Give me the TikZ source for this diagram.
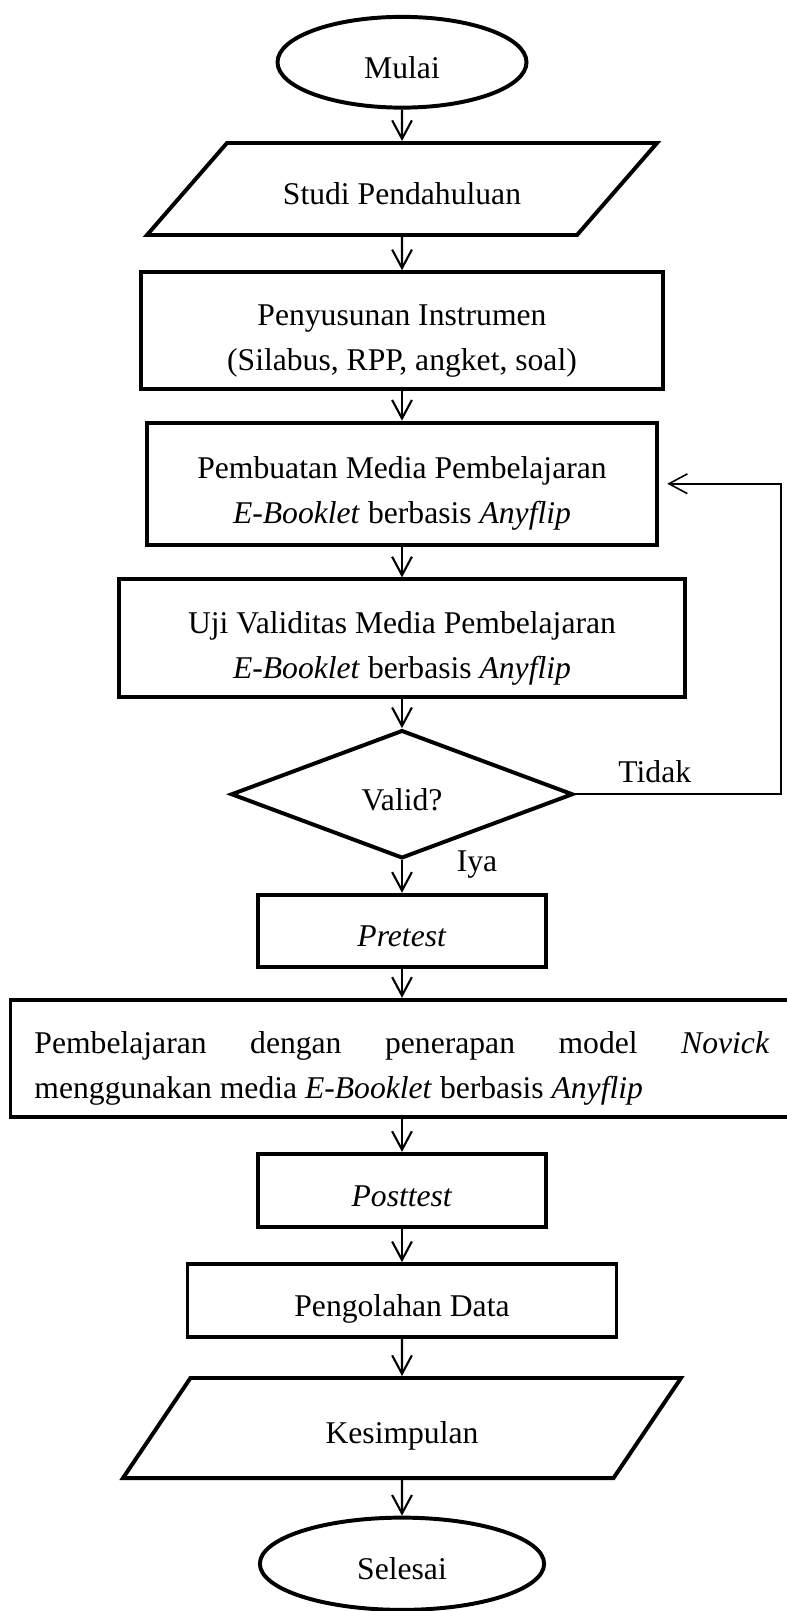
\documentclass[tikz,border=0pt]{standalone}
\usepackage{fontspec}
\setmainfont{Liberation Serif}
\usetikzlibrary{positioning, arrows.meta, shapes.geometric}

\begin{document}
\begin{tikzpicture}[
    font=\fontsize{12}{17}\selectfont,
    base/.style={draw=black, line width=1.5pt, inner sep=0pt, align=center},
    oneline/.style={text height=12pt, text depth=0pt},
    twoline/.style={text height=30.2pt, text depth=0pt},
    term/.style={base, oneline, ellipse},
    io/.style={base, oneline, trapezium, trapezium stretches body=true},
    proc/.style={base, rectangle},
    dec/.style={base, oneline, diamond},
    flow/.style={-{Straight Barb[length=7pt, width=7.5pt]}, line width=0.8pt},
    back/.style={flow, line width=0.6pt},
    tag/.style={inner sep=0pt}
  ]
  \def\cx{5.36}
  \useasboundingbox (0,0) rectangle (10.48,-21.48);

  \node[term, minimum width=3.32cm, minimum height=1.21cm] (mulai) at (\cx,-0.83) {Mulai};
  \node[io, trapezium left angle=49, trapezium right angle=131,
        minimum width=6.8cm, inner ysep=11.45pt] (studi) at (\cx,-2.52) {Studi Pendahuluan};
  \node[proc, twoline, minimum width=6.97cm, minimum height=1.56cm] (susun) at (\cx,-4.41)
    {Penyusunan Instrumen\\(Silabus, RPP, angket, soal)};
  \node[proc, twoline, minimum width=6.81cm, minimum height=1.63cm] (buat) at (\cx,-6.45)
    {Pembuatan Media Pembelajaran\\\textit{E-Booklet} berbasis \textit{Anyflip}};
  \node[proc, twoline, minimum width=7.55cm, minimum height=1.57cm] (uji) at (\cx,-8.51)
    {Uji Validitas Media Pembelajaran\\\textit{E-Booklet} berbasis \textit{Anyflip}};
  \node[dec, minimum width=4.56cm, minimum height=1.71cm] (valid) at (\cx,-10.59) {Valid?};
  \node[proc, oneline, minimum width=3.83cm, minimum height=0.96cm] (pre) at (\cx,-12.41) {\textit{Pretest}};
  \node[proc, text height=10pt, text depth=13.8pt, text width=9.8cm, inner xsep=0.32cm,
        minimum height=1.56cm, align=justify] (ajar) at (\cx,-14.11)
    {Pembelajaran dengan penerapan model \textit{Novick}\linebreak
     menggunakan media \textit{E-Booklet} berbasis \textit{Anyflip}};
  \node[proc, oneline, minimum width=3.85cm, minimum height=0.97cm] (post) at (\cx,-15.87) {\textit{Posttest}};
  \node[proc, oneline, minimum width=5.72cm, minimum height=0.97cm] (olah) at (\cx,-17.34) {Pengolahan Data};
  \node[io, trapezium left angle=56, trapezium right angle=124,
        minimum width=7.44cm, inner ysep=12.97pt] (simpul) at (\cx,-19.04) {Kesimpulan};
  \node[term, minimum width=3.79cm, minimum height=1.23cm] (selesai) at (\cx,-20.85) {Selesai};

  % main flow
  \draw[flow] (mulai) -- (studi);
  \draw[flow] (studi) -- (susun);
  \draw[flow] (susun) -- (buat);
  \draw[flow] (buat) -- (uji);
  \draw[flow] (uji) -- (valid);
  \draw[flow] (valid) -- (pre);
  \draw[flow] (pre) -- (ajar);
  \draw[flow] (ajar) -- (post);
  \draw[flow] (post) -- (olah);
  \draw[flow] (olah) -- (simpul);
  \draw[flow] (simpul) -- (selesai);

  % not valid: back to media
  \coordinate (loopc) at (10.41,-8);
  \draw[back, shorten >=3pt] (valid.east) -- (valid.east -| loopc) |- (buat.east);
  \node[tag] (tidak) at (8.73,-10.29) {Tidak};
  \node[tag] (iya) at (6.36,-11.53) {Iya};
\end{tikzpicture}
\end{document}
